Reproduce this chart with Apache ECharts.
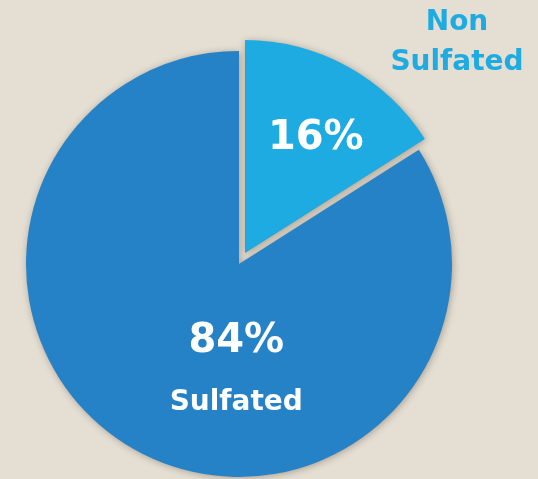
<!DOCTYPE html>
<html>
<head>
<meta charset="utf-8">
<script src="https://cdn.jsdelivr.net/npm/echarts@6/dist/echarts.min.js"></script>
<style>
html,body{margin:0;padding:0;background:#e4ded3;}
#c{width:538px;height:479px;}
</style>
</head>
<body>
<div id="c"></div>
<script>
const categories = ['Non Sulfated', 'Sulfated'];
const values = [16, 84];
const colors = ['#1eabe2', '#2682c6'];

const chart = echarts.init(document.getElementById('c'), null, {renderer: 'canvas'});
const FONT = '"DejaVu Sans", sans-serif';

const data = categories.map((name, i) => ({
  name: name,
  value: values[i],
  selected: i === 0,
  itemStyle: {color: colors[i]},
  label: i === 0 ? {
    formatter: '{p|{c}%}',
    padding: [0, 0, 36, 36],
    rich: {p: {fontSize: 40, fontWeight: 'bold', color: '#fff', fontFamily: FONT}}
  } : {
    formatter: '{p|{c}%}\n{n|{b}}',
    offset: [50, 2],
    rich: {
      p: {fontSize: 40, fontWeight: 'bold', color: '#fff', fontFamily: FONT, lineHeight: 82, align: 'center'},
      n: {fontSize: 28, fontWeight: 'bold', color: '#fff', fontFamily: FONT, lineHeight: 40, align: 'center'}
    }
  }
}));

chart.setOption({
  backgroundColor: '#e4ded3',
  animation: false,
  graphic: [{
    type: 'text',
    left: 457 - 70,
    top: 3,
    style: {
      text: categories[0].replace(' ', '\n'),
      fill: colors[0],
      font: 'bold 28px ' + FONT,
      textAlign: 'center',
      lineHeight: 40,
      width: 140
    }
  }],
  series: [{
    type: 'pie',
    center: [239, 264],
    radius: [0, 213],
    startAngle: 90,
    clockwise: true,
    selectedMode: 'single',
    selectedOffset: 12.5,
    avoidLabelOverlap: false,
    emphasis: {disabled: true},
    label: {show: true, position: 'inside'},
    labelLine: {show: false},
    itemStyle: {
      shadowBlur: 7,
      shadowColor: 'rgba(60,40,20,0.35)',
      shadowOffsetX: 1,
      shadowOffsetY: 1
    },
    data: data
  }]
});
</script>
</body>
</html>
